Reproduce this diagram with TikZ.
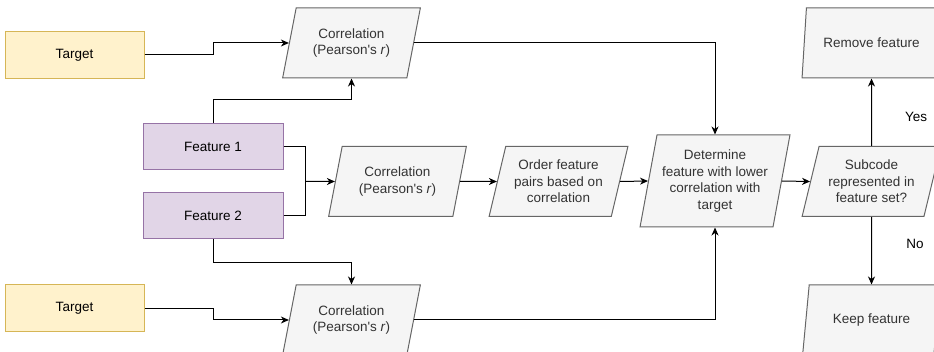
\documentclass[tikz,border=0pt]{standalone}
\usepackage{fontspec}
\setmainfont{Liberation Sans}
\usetikzlibrary{shapes.geometric}
\usetikzlibrary{arrows.meta}
\definecolor{tgtfill}{HTML}{FFF2CC}
\definecolor{tgtdraw}{HTML}{D6B656}
\definecolor{featfill}{HTML}{E1D5E7}
\definecolor{featdraw}{HTML}{9673A6}
\definecolor{parafill}{HTML}{F5F5F5}
\definecolor{paradraw}{HTML}{666666}
\definecolor{paratext}{HTML}{333333}

\begin{document}
\begin{tikzpicture}[x=1pt, y=-1pt,
	font=\fontsize{13.5}{16.5}\selectfont,
	targetbox/.style={rectangle, draw=tgtdraw, fill=tgtfill, line width=1pt, minimum width=139pt, minimum height=47pt},
	featbox/.style={rectangle, draw=featdraw, fill=featfill, line width=1pt, minimum width=140pt, minimum height=46pt},
	parabox/.style={trapezium, trapezium stretches=true, trapezium left angle=72, trapezium right angle=108,
		draw=paradraw, fill=parafill, text=paratext, line width=1pt, align=center,
		minimum width=139pt, minimum height=70pt, inner sep=0pt},
	flow/.style={line width=1pt, -{Stealth[length=8pt, width=7pt, inset=2.5pt]}}]
	% Fix the page to the size of the reference
	\useasboundingbox (0,0) rectangle (934,352);

	% Inputs
	\node[targetbox] (tgtT) at (74.5,55) {Target};
	\node[targetbox] (tgtB) at (74.5,308.5) {Target};
	\node[featbox] (fOne) at (213,146.5) {Feature 1};
	\node[featbox] (fTwo) at (213,216) {Feature 2};

	% Process steps
	\node[parabox] (corrT) at (351.5,43) {Correlation\\(Pearson\textquotesingle s \textit{r})};
	\node[parabox] (corrM) at (397.5,181.5) {Correlation\\(Pearson\textquotesingle s \textit{r})};
	\node[parabox] (corrB) at (351.5,320) {Correlation\\(Pearson\textquotesingle s \textit{r})};
	\node[parabox] (order) at (558.5,181.5) {Order feature\\pairs based on\\correlation};
	\node[parabox, minimum width=150pt, minimum height=92pt, trapezium left angle=76, trapezium right angle=104] (determ) at (715,181) {Determine\\feature with lower\\correlation with\\target};
	\node[parabox] (subc) at (871.5,181.5) {Subcode\\represented in\\feature set?};
	\node[parabox] (remove) at (871.5,43) {Remove feature};
	\node[parabox] (keep) at (871.5,320) {Keep feature};

	% Correlations with the target
	\draw[flow] (tgtT.east) -- (tgtT.east -| fOne.north) |- (corrT.west);
	\draw[flow] (fOne.north) -- ++(0,-23) -| (corrT.south);
	\draw[flow] (tgtB.east) -- (tgtB.east -| fTwo.south) |- (corrB.west);
	\draw[flow] (fTwo.south) -- ++(0,23) -| (corrB.north);

	% Feature pair
	\coordinate (join) at (305,181.5);
	\draw[line width=1pt] (fOne.east) -| (join);
	\draw[line width=1pt] (fTwo.east) -| (join);
	\draw[flow] (join) -- (corrM.west);

	% Main chain
	\draw[flow] (corrM.east) -- (order.west);
	\draw[flow] (order.east) -- (determ.west);
	\draw[flow] (corrT.east) -| (determ.north);
	\draw[flow] (corrB.east) -| (determ.south);
	\draw[flow] (determ.east) -- (subc.west);

	% Decision
	\draw[flow] (subc.north) -- (remove.south);
	\draw[flow] (subc.south) -- (keep.north);
	\node (yes) at (916,117) {Yes};
	\node (no) at (915,244) {No};
\end{tikzpicture}
\end{document}
